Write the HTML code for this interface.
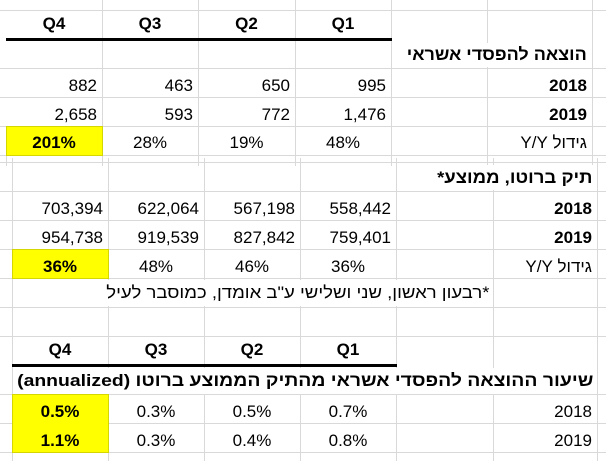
<!DOCTYPE html>
<html><head><meta charset="utf-8">
<style>
html,body{margin:0;padding:0;background:#fff;}
body{width:606px;height:461px;position:relative;overflow:hidden;font-family:"Liberation Sans","DejaVu Sans",sans-serif;font-size:17px;color:#000;}
.c{position:absolute;height:29px;line-height:29px;white-space:nowrap;box-sizing:border-box;}
.r{text-align:right;padding-right:5px;}
.m{text-align:center;}
.b{font-weight:bold;}
.y{background:#ffff00;outline:1px solid #d6d600;}
.h{direction:rtl;}
.t{position:absolute;white-space:nowrap;direction:rtl;background:#fff;transform-origin:right center;padding:0 1px;}
svg{position:absolute;left:0;top:0;}
</style></head><body>
<svg width="606" height="461">
<g stroke="#d9d9d9" stroke-width="1">
<line x1="102.5" y1="0" x2="102.5" y2="166"/>
<line x1="198.5" y1="0" x2="198.5" y2="166"/>
<line x1="295.5" y1="0" x2="295.5" y2="166"/>
<line x1="391.5" y1="0" x2="391.5" y2="166"/>
<line x1="487.5" y1="0" x2="487.5" y2="166"/>
<line x1="592.5" y1="0" x2="592.5" y2="166"/>
<line x1="6.5" y1="126" x2="6.5" y2="166"/>
<line x1="0" y1="10.5" x2="606" y2="10.5"/>
<line x1="0" y1="68.5" x2="606" y2="68.5"/>
<line x1="0" y1="97.5" x2="606" y2="97.5"/>
<line x1="0" y1="126.5" x2="606" y2="126.5"/>
<line x1="0" y1="155.5" x2="606" y2="155.5"/>
<line x1="12.5" y1="158" x2="12.5" y2="461"/>
<line x1="108.5" y1="158" x2="108.5" y2="461"/>
<line x1="204.5" y1="158" x2="204.5" y2="461"/>
<line x1="300.5" y1="158" x2="300.5" y2="461"/>
<line x1="396.5" y1="158" x2="396.5" y2="461"/>
<line x1="493.5" y1="158" x2="493.5" y2="461"/>
<line x1="597.5" y1="158" x2="597.5" y2="461"/>
<line x1="0" y1="162.5" x2="606" y2="162.5"/>
<line x1="0" y1="191.5" x2="606" y2="191.5"/>
<line x1="0" y1="220.5" x2="606" y2="220.5"/>
<line x1="0" y1="249.5" x2="606" y2="249.5"/>
<line x1="0" y1="278.5" x2="606" y2="278.5"/>
<line x1="0" y1="307.5" x2="606" y2="307.5"/>
<line x1="0" y1="336.5" x2="606" y2="336.5"/>
<line x1="0" y1="394.5" x2="606" y2="394.5"/>
<line x1="0" y1="423.5" x2="606" y2="423.5"/>
<line x1="0" y1="452.5" x2="606" y2="452.5"/>
</g>
<rect x="6" y="38" width="386" height="3" fill="#000"/>
<rect x="12" y="364" width="385" height="3" fill="#000"/>
</svg>

<!-- TOP SECTION -->
<div class="c m b" style="left:6px;top:9px;width:96px;">Q4</div>
<div class="c m b" style="left:102px;top:9px;width:96px;">Q3</div>
<div class="c m b" style="left:198px;top:9px;width:97px;">Q2</div>
<div class="c m b" style="left:295px;top:9px;width:96px;">Q1</div>

<div class="t b" style="right:18px;top:43px;height:24px;line-height:24px;transform:scaleX(1.06);">הוצאה להפסדי אשראי</div>

<div class="c r" style="left:6px;top:71px;width:96px;">882</div>
<div class="c r" style="left:102px;top:71px;width:96px;">463</div>
<div class="c r" style="left:198px;top:71px;width:97px;">650</div>
<div class="c r" style="left:295px;top:71px;width:96px;">995</div>
<div class="c r b" style="left:487px;top:71px;width:105px;">2018</div>

<div class="c r" style="left:6px;top:100px;width:96px;">2,658</div>
<div class="c r" style="left:102px;top:100px;width:96px;">593</div>
<div class="c r" style="left:198px;top:100px;width:97px;">772</div>
<div class="c r" style="left:295px;top:100px;width:96px;">1,476</div>
<div class="c r b" style="left:487px;top:100px;width:105px;">2019</div>

<div class="y" style="position:absolute;left:7px;top:127px;width:95px;height:28px;"></div>
<div class="c m b" style="left:6px;top:128px;width:96px;">201%</div>
<div class="c m" style="left:102px;top:128px;width:96px;">28%</div>
<div class="c m" style="left:198px;top:128px;width:97px;">19%</div>
<div class="c m" style="left:295px;top:128px;width:96px;">48%</div>
<div class="c r h" style="left:487px;top:128px;width:105px;">גידול Y/Y</div>

<!-- MIDDLE SECTION -->
<div class="t b" style="right:12px;top:165px;height:25px;line-height:25px;transform:scaleX(1.09);">תיק ברוטו, ממוצע*</div>

<div class="c r" style="left:12px;top:194px;width:96px;">703,394</div>
<div class="c r" style="left:108px;top:194px;width:96px;">622,064</div>
<div class="c r" style="left:204px;top:194px;width:96px;">567,198</div>
<div class="c r" style="left:300px;top:194px;width:96px;">558,442</div>
<div class="c r b" style="left:493px;top:194px;width:104px;">2018</div>

<div class="c r" style="left:12px;top:223px;width:96px;">954,738</div>
<div class="c r" style="left:108px;top:223px;width:96px;">919,539</div>
<div class="c r" style="left:204px;top:223px;width:96px;">827,842</div>
<div class="c r" style="left:300px;top:223px;width:96px;">759,401</div>
<div class="c r b" style="left:493px;top:223px;width:104px;">2019</div>

<div class="y" style="position:absolute;left:13px;top:250px;width:95px;height:28px;"></div>
<div class="c m b" style="left:12px;top:252px;width:96px;">36%</div>
<div class="c m" style="left:108px;top:252px;width:96px;">48%</div>
<div class="c m" style="left:204px;top:252px;width:96px;">46%</div>
<div class="c m" style="left:300px;top:252px;width:96px;">36%</div>
<div class="c r h" style="left:493px;top:252px;width:104px;">גידול Y/Y</div>

<div class="t" style="right:115px;top:280px;height:26px;line-height:26px;transform:scaleX(1.09);">*רבעון ראשון, שני ושלישי ע"ב אומדן, כמוסבר לעיל</div>

<!-- BOTTOM SECTION -->
<div class="c m b" style="left:12px;top:335px;width:96px;">Q4</div>
<div class="c m b" style="left:108px;top:335px;width:96px;">Q3</div>
<div class="c m b" style="left:204px;top:335px;width:96px;">Q2</div>
<div class="c m b" style="left:300px;top:335px;width:96px;">Q1</div>

<div class="t b" style="right:12px;top:368px;height:26px;line-height:26px;transform:scaleX(1.14);">שיעור ההוצאה להפסדי אשראי מהתיק הממוצע ברוטו (annualized)</div>

<div class="y" style="position:absolute;left:13px;top:395px;width:95px;height:57px;"></div>
<div class="c m b" style="left:12px;top:397px;width:96px;">0.5%</div>
<div class="c m" style="left:108px;top:397px;width:96px;">0.3%</div>
<div class="c m" style="left:204px;top:397px;width:96px;">0.5%</div>
<div class="c m" style="left:300px;top:397px;width:96px;">0.7%</div>
<div class="c r" style="left:493px;top:397px;width:104px;">2018</div>

<div class="c m b" style="left:12px;top:426px;width:96px;">1.1%</div>
<div class="c m" style="left:108px;top:426px;width:96px;">0.3%</div>
<div class="c m" style="left:204px;top:426px;width:96px;">0.4%</div>
<div class="c m" style="left:300px;top:426px;width:96px;">0.8%</div>
<div class="c r" style="left:493px;top:426px;width:104px;">2019</div>
</body></html>
